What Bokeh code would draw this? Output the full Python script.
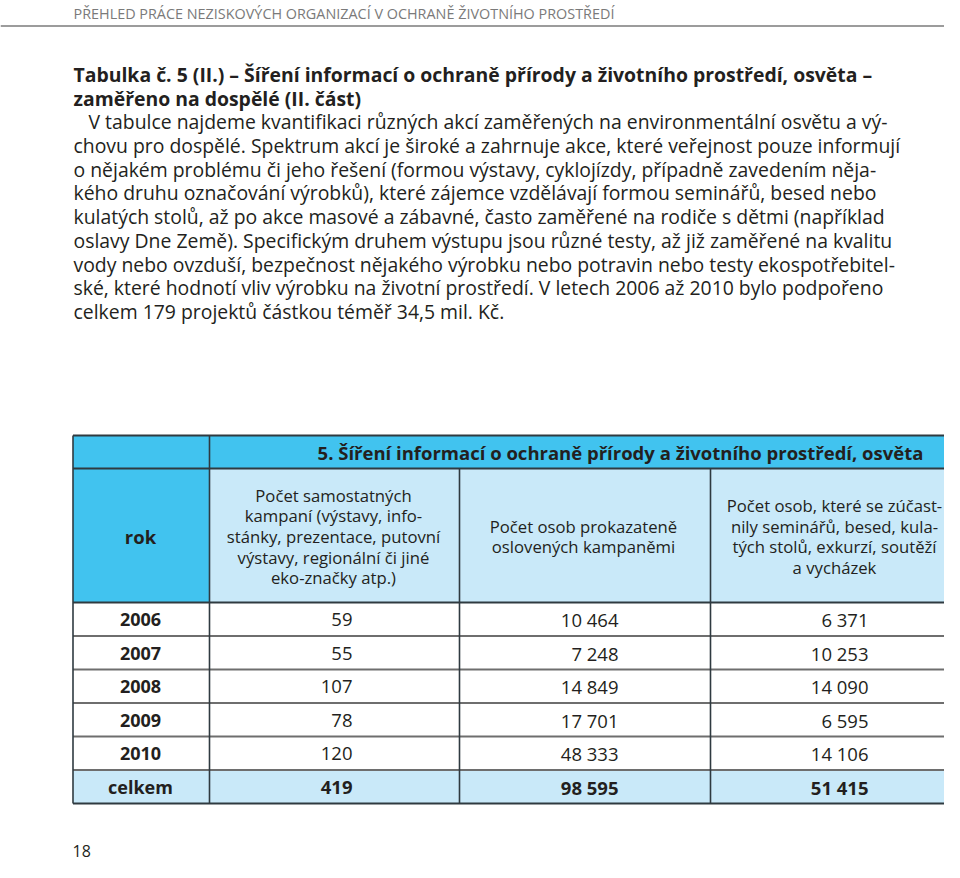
from bokeh.plotting import figure
from bokeh.models import Range1d, ColumnDataSource
from bokeh.core.properties import value
from bokeh.embed import file_html
from bokeh.resources import INLINE

# ---------------- data ----------------
page_header = "PŘEHLED PRÁCE NEZISKOVÝCH ORGANIZACÍ V OCHRANĚ ŽIVOTNÍHO PROSTŘEDÍ"
title_lines = [
    "Tabulka č. 5 (II.) – Šíření informací o ochraně přírody a životního prostředí, osvěta –",
    "zaměřeno na dospělé (II. část)",
]
body_lines = [
    "V tabulce najdeme kvantifikaci různých akcí zaměřených na environmentální osvětu a vý-",
    "chovu pro dospělé. Spektrum akcí je široké a zahrnuje akce, které veřejnost pouze informují",
    "o nějakém problému či jeho řešení (formou výstavy, cyklojízdy, případně zavedením něja-",
    "kého druhu označování výrobků), které zájemce vzdělávají formou seminářů, besed nebo",
    "kulatých stolů, až po akce masové a zábavné, často zaměřené na rodiče s dětmi (například",
    "oslavy Dne Země). Specifickým druhem výstupu jsou různé testy, až již zaměřené na kvalitu",
    "vody nebo ovzduší, bezpečnost nějakého výrobku nebo potravin nebo testy ekospotřebitel-",
    "ské, které hodnotí vliv výrobku na životní prostředí. V letech 2006 až 2010 bylo podpořeno",
    "celkem 179 projektů částkou téměř 34,5 mil. Kč.",
]
table_title = "5. Šíření informací o ochraně přírody a životního prostředí, osvěta"
col_header_year = "rok"
col_headers = [
    ["Počet samostatných", "kampaní (výstavy, info-", "stánky, prezentace, putovní",
     "výstavy, regionální či jiné", "eko-značky atp.)"],
    ["Počet osob prokazateně", "oslovených kampaněmi"],
    ["Počet osob, které se zúčast-", "nily seminářů, besed, kula-",
     "tých stolů, exkurzí, soutěží", "a vycházek"],
]
years = ["2006", "2007", "2008", "2009", "2010", "celkem"]
campaigns = [59, 55, 107, 78, 120, 419]
people_reached = [10464, 7248, 14849, 17701, 48333, 98595]
participants = [6371, 10253, 14090, 6595, 14106, 51415]
page_number = "18"

# ---------------- layout ----------------
W, H = 944, 862
FONT = value("Open Sans")
TXT = "#231f20"
CYAN = "#41c3ef"
LIGHT = "#c9e9f9"
DARK = "#2f3a40"
GRAY = "#6e6e6e"

col_edges = [72.5, 209, 459, 710, 944]
hdr1_top, hdr1_bot = 435, 468
hdr2_bot = 602
row_h = 33.5

p = figure(width=W, height=H, x_range=Range1d(0, W), y_range=Range1d(H, 0),
           output_backend="svg", toolbar_location=None, min_border=0,
           background_fill_color="white", border_fill_color="white")
p.axis.visible = False
p.grid.visible = False
p.outline_line_color = None


def fmt(n):
    return f"{n:,}".replace(",", " ")


def add_text(xs, ys, texts, size, align="left", bold=False, color=TXT):
    src = ColumnDataSource(dict(x=xs, y=ys, t=texts))
    p.text("x", "y", text="t", source=src, text_font=FONT, text_font_size=f"{size}px",
           text_align=align, text_baseline="middle", text_color=color,
           text_font_style="bold" if bold else "normal")


# page header
add_text([73], [13], [page_header], 14.4, color="#7a7a7a")
p.segment(x0=[0], y0=[25.5], x1=[W], y1=[25.5], line_color="#9c9c9c", line_width=2)

# title + body
add_text([73] * len(title_lines), [74 + 23.7 * i for i in range(len(title_lines))],
         title_lines, 19.4, bold=True)
body_y = [121 + 23.75 * i for i in range(len(body_lines))]
body_x = [88] + [73] * (len(body_lines) - 1)
add_text(body_x, body_y, body_lines, 19.4)

# ---- table fills ----
n = len(years)
row_tops = [hdr2_bot + row_h * i for i in range(n)]
table_bot = hdr2_bot + row_h * n

p.quad(left=[col_edges[0]], right=[col_edges[-1]], top=[hdr1_top], bottom=[hdr1_bot],
       fill_color=CYAN, line_color=None)
p.quad(left=[col_edges[0]], right=[col_edges[1]], top=[hdr1_bot], bottom=[hdr2_bot],
       fill_color=CYAN, line_color=None)
p.quad(left=[col_edges[1]], right=[col_edges[-1]], top=[hdr1_bot], bottom=[hdr2_bot],
       fill_color=LIGHT, line_color=None)
p.quad(left=[col_edges[0]], right=[col_edges[-1]], top=[row_tops[-1]], bottom=[table_bot],
       fill_color=LIGHT, line_color=None)

# ---- table lines ----
p.segment(x0=[col_edges[0]] * (n - 1), x1=[col_edges[-1]] * (n - 1),
          y0=row_tops[1:], y1=row_tops[1:], line_color=GRAY, line_width=2.2)
hy = [hdr1_top, hdr1_bot, hdr2_bot, table_bot]
p.segment(x0=[col_edges[0]] * 4, x1=[col_edges[-1]] * 4, y0=hy, y1=hy,
          line_color=DARK, line_width=1.8)
p.segment(x0=[col_edges[0], col_edges[1]], x1=[col_edges[0], col_edges[1]],
          y0=[hdr1_top, hdr1_top], y1=[table_bot, table_bot], line_color=DARK, line_width=1.6)
p.segment(x0=col_edges[2:4], x1=col_edges[2:4], y0=[hdr1_bot] * 2, y1=[table_bot] * 2,
          line_color=DARK, line_width=1.6)

# ---- table texts ----
add_text([620], [452], [table_title], 18.5, align="center", bold=True)
hdr2_mid = (hdr1_bot + hdr2_bot) / 2
add_text([140], [hdr2_mid + 1], [col_header_year], 18.5, align="center", bold=True)
col_centers = [333, 583, 834]
for c, lines in zip(col_centers, col_headers):
    k = len(lines)
    ys = [hdr2_mid + 1 + 20.6 * (i - (k - 1) / 2) for i in range(k)]
    add_text([c] * k, ys, lines, 16.7, align="center")

row_mid = [t + row_h / 2 + 0.5 for t in row_tops]
add_text([140] * n, row_mid, years, 18, align="center", bold=True)
right_x = [352, 618, 868]
for rx, vals in zip(right_x, [campaigns, people_reached, participants]):
    add_text([rx] * (n - 1), row_mid[:-1], [fmt(v) for v in vals[:-1]], 18.5, align="right")
    add_text([rx], [row_mid[-1]], [fmt(vals[-1])], 18.5, align="right", bold=True)

# page number
add_text([72], [850], [page_number], 16)

open("out.html", "w").write(file_html(p, INLINE))
